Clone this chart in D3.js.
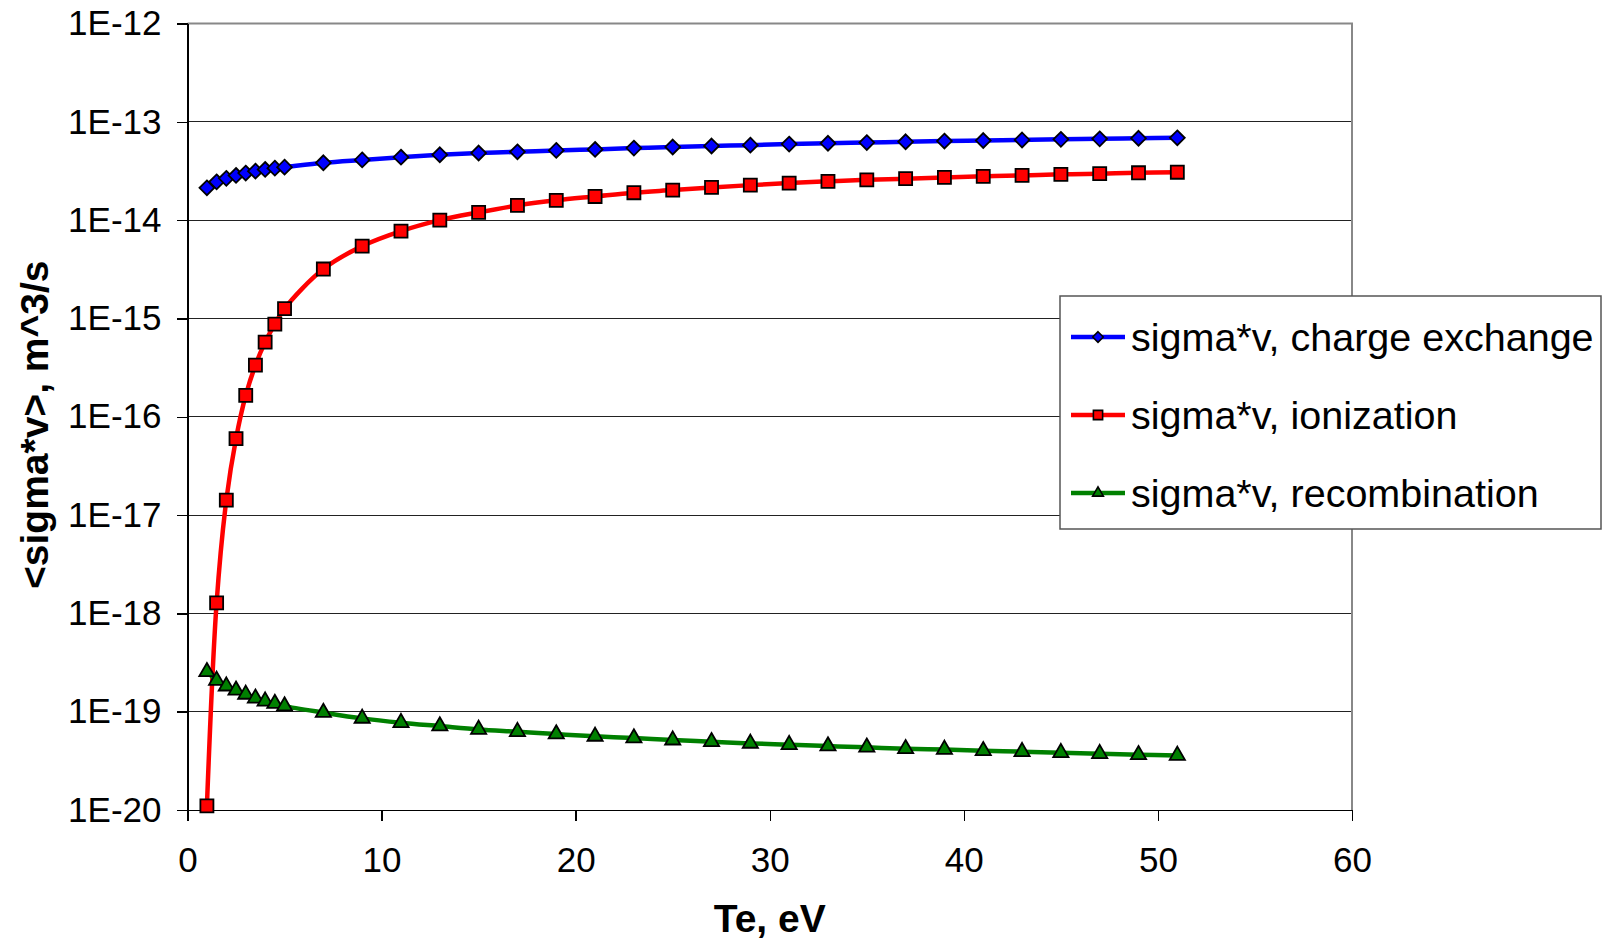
<!DOCTYPE html>
<html>
<head>
<meta charset="utf-8">
<script src="https://cdn.jsdelivr.net/npm/d3@7"></script>
<style>
  body { margin: 0; background: #fff; }
  text { font-family: "Liberation Sans", Arial, sans-serif; }
  .axis path, .axis line { stroke: #000; stroke-width: 1.5px; shape-rendering: crispEdges; }
  .axis text { font-size: 35px; fill: #000; }
  .grid line { stroke: #222; stroke-width: 1px; shape-rendering: crispEdges; }
  .axisTitle { font-size: 39px; font-weight: bold; }
  .legend text { font-size: 39.5px; }
</style>
</head>
<body>
<div id="chart"></div>
<script>
var svgWidth = 1604;
var svgHeight = 942;

var margin = {
    top: 23.5,
    right: 252,
    bottom: 132,
    left: 187.5};

var width = svgWidth - margin.left - margin.right;
var height = svgHeight - margin.top - margin.bottom;

// Te, eV
var te = [1, 1.5, 2, 2.5, 3, 3.5, 4, 4.5, 5, 7, 9, 11, 13, 15, 17, 19, 21, 23, 25,
          27, 29, 31, 33, 35, 37, 39, 41, 43, 45, 47, 49, 51];

var chargeExchange = [2.13e-14, 2.45e-14, 2.66e-14, 2.85e-14, 3.01e-14, 3.15e-14, 3.28e-14, 3.38e-14,
    3.46e-14, 3.83e-14, 4.10e-14, 4.37e-14, 4.62e-14, 4.81e-14, 4.95e-14, 5.12e-14, 5.24e-14,
    5.40e-14, 5.55e-14, 5.68e-14, 5.79e-14, 5.93e-14, 6.05e-14, 6.15e-14, 6.26e-14, 6.37e-14,
    6.45e-14, 6.54e-14, 6.63e-14, 6.71e-14, 6.80e-14, 6.87e-14];

var ionization = [1.1e-20, 1.28e-18, 1.42e-17, 6.0e-17, 1.65e-16, 3.35e-16, 5.74e-16, 8.75e-16,
    1.26e-15, 3.18e-15, 5.44e-15, 7.73e-15, 1.0e-14, 1.20e-14, 1.41e-14, 1.59e-14, 1.74e-14,
    1.90e-14, 2.02e-14, 2.15e-14, 2.27e-14, 2.38e-14, 2.48e-14, 2.57e-14, 2.64e-14, 2.72e-14,
    2.79e-14, 2.85e-14, 2.92e-14, 2.97e-14, 3.03e-14, 3.07e-14];

var recombination = [2.55e-19, 2.08e-19, 1.82e-19, 1.65e-19, 1.50e-19, 1.37e-19, 1.28e-19, 1.21e-19,
    1.14e-19, 9.8e-20, 8.55e-20, 7.73e-20, 7.14e-20, 6.6e-20, 6.26e-20, 5.92e-20, 5.61e-20,
    5.39e-20, 5.14e-20, 4.95e-20, 4.76e-20, 4.62e-20, 4.47e-20, 4.34e-20, 4.20e-20, 4.13e-20,
    4.01e-20, 3.92e-20, 3.83e-20, 3.74e-20, 3.65e-20, 3.59e-20];

var seriesNames = ["sigma*v, charge exchange", "sigma*v, ionization", "sigma*v, recombination"];

var xTicks = [0, 10, 20, 30, 40, 50, 60];
var yTicks = [1e-20, 1e-19, 1e-18, 1e-17, 1e-16, 1e-15, 1e-14, 1e-13, 1e-12];
var yTickLabels = ["1E-20", "1E-19", "1E-18", "1E-17", "1E-16", "1E-15", "1E-14", "1E-13", "1E-12"];

// square turned 45 degrees, like the Excel diamond marker
var diamondSym = {
    draw: function(context, size) {
        var r = Math.sqrt(size / 2);
        context.moveTo(0, -r);
        context.lineTo(r, 0);
        context.lineTo(0, r);
        context.lineTo(-r, 0);
        context.closePath();
    }
};

var series = [
    {name: seriesNames[0], values: chargeExchange, color: "#0000ff", symbol: diamondSym, size: 110, cls: "cx"},
    {name: seriesNames[1], values: ionization, color: "#ff0000", symbol: d3.symbolSquare, size: 170, cls: "ion"},
    {name: seriesNames[2], values: recombination, color: "#008000", symbol: d3.symbolTriangle, size: 100, cls: "rec"}
];

var svg = d3.select("#chart")
    .append("svg")
        .attr("width", svgWidth)
        .attr("height", svgHeight);
var chartGroup = svg.append("g")
        .attr("transform", `translate(${margin.left}, ${margin.top})`);

var x = d3.scaleLinear().domain([0, 60]).range([0, width]);
var y = d3.scaleLog().domain([1e-20, 1e-12]).range([height, 0]);

// gridlines
chartGroup.append("g")
    .attr("class", "grid")
    .selectAll("line")
    .data(yTicks.slice(1, -1))
    .enter().append("line")
        .attr("x1", 0)
        .attr("x2", width)
        .attr("y1", d => y(d))
        .attr("y2", d => y(d));

// plot frame (top and right in gray)
chartGroup.append("path")
    .attr("d", `M0,0H${width}V${height}`)
    .style("fill", "none")
    .style("stroke", "#888")
    .style("stroke-width", 2);

var xAxis = d3.axisBottom(x).tickValues(xTicks).tickSize(11).tickSizeOuter(0).tickPadding(26);
var yAxis = d3.axisLeft(y).tickValues(yTicks)
    .tickFormat((d, i) => yTickLabels[i])
    .tickSize(11).tickSizeOuter(0).tickPadding(15);

chartGroup.append("g")
    .attr("class", "x axis")
    .attr("transform", "translate(0," + height + ")")
    .call(xAxis);

chartGroup.append("g")
    .attr("class", "y axis")
    .call(yAxis);

chartGroup.selectAll(".axis").attr("font-family", null).attr("font-size", null);

// lines
var line = d3.line()
    .x(d => x(d[0]))
    .y(d => y(d[1]))
    .curve(d3.curveCatmullRom.alpha(0.5));

series.forEach(function(s) {
    var pts = te.map((t, i) => [t, s.values[i]]);

    chartGroup.append("path")
        .style("stroke", s.color)
        .style("stroke-width", 4.5)
        .style("fill", "none")
        .attr("d", line(pts));

    chartGroup.selectAll(".pt-" + s.cls)
        .data(pts)
        .enter().append("path")
            .attr("class", "pt-" + s.cls)
            .attr("d", d3.symbol().type(s.symbol).size(s.size))
            .attr("transform", d => `translate(${x(d[0])},${y(d[1])})`)
            .style("fill", s.color)
            .style("stroke", "#000")
            .style("stroke-width", 1.8);
});

// axis titles
chartGroup.append("text")
    .attr("class", "axisTitle")
    .attr("text-anchor", "middle")
    .attr("transform", `translate(${width / 2}, ${height + 122})`)
    .text("Te, eV");

chartGroup.append("text")
    .attr("class", "axisTitle")
    .attr("text-anchor", "middle")
    .attr("transform", `translate(${-margin.left + 48}, ${height / 2 + 8}) rotate(-90)`)
    .text("<sigma*v>, m^3/s");

// legend
var legend = svg.append("g").attr("class", "legend");

legend.append("rect")
    .attr("x", 1060)
    .attr("y", 296)
    .attr("width", 541)
    .attr("height", 233)
    .style("fill", "#fff")
    .style("stroke", "#555")
    .style("stroke-width", 1.5);

var legendItems = legend.selectAll(".item")
    .data(series)
    .enter().append("g")
        .attr("class", "item")
        .attr("transform", (d, i) => `translate(1071, ${337 + i * 78})`);

legendItems.append("line")
    .attr("x1", 0)
    .attr("x2", 54)
    .style("stroke", d => d.color)
    .style("stroke-width", 4.5);

legendItems.append("path")
    .attr("d", d => d3.symbol().type(d.symbol).size(d.size * 0.5)())
    .attr("transform", "translate(27,0)")
    .style("fill", d => d.color)
    .style("stroke", "#000")
    .style("stroke-width", 1.6);

legendItems.append("text")
    .attr("x", 60)
    .attr("dy", "0.35em")
    .text(d => d.name);
</script>
</body>
</html>
